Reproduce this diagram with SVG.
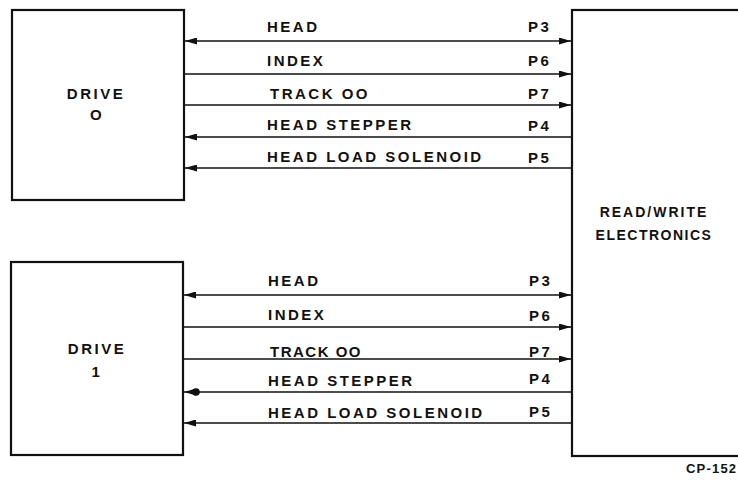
<svg xmlns="http://www.w3.org/2000/svg" width="738" height="484" viewBox="0 0 738 484">
<style>
.box{fill:none;stroke:#111;stroke-width:2.2}
.ln{fill:none;stroke:#111;stroke-width:1.4}
.t{font-family:"Liberation Sans",Arial,sans-serif;font-weight:bold;font-size:15px;fill:#111;letter-spacing:2.5px}
.c{text-anchor:middle}
.s{font-size:13px;letter-spacing:1.2px}
</style>
<defs>
<marker id="ah" markerUnits="userSpaceOnUse" viewBox="0 0 12 7" refX="12" refY="3.5" markerWidth="12" markerHeight="7" orient="auto-start-reverse">
<path d="M0,0 L12,3.5 L0,7 z" fill="#111"/>
</marker>
</defs>
<rect width="738" height="484" fill="#fff"/>
<g id="drive0">
<rect class="box" x="12" y="10" width="172" height="190"/>
<text class="t c" x="96" y="99">DRIVE</text>
<text class="t c" x="97" y="120">O</text>
</g>
<g id="drive1">
<rect class="box" x="11" y="262" width="172" height="193"/>
<text class="t c" x="97" y="354">DRIVE</text>
<text class="t c" x="97" y="377">1</text>
</g>
<g id="rw">
<rect class="box" x="572" y="10" width="200" height="446"/>
<text class="t c" x="654" y="217" style="font-size:14px;letter-spacing:2px">READ/WRITE</text>
<text class="t c" x="654" y="240" style="font-size:14px;letter-spacing:1.5px">ELECTRONICS</text>
</g>
<g id="connectors">
<line class="ln" x1="185" y1="41" x2="571" y2="41" marker-start="url(#ah)" marker-end="url(#ah)"/>
<line class="ln" x1="185" y1="74" x2="571" y2="74" marker-end="url(#ah)"/>
<line class="ln" x1="185" y1="105" x2="571" y2="105" marker-end="url(#ah)"/>
<line class="ln" x1="571" y1="137" x2="185" y2="137" marker-end="url(#ah)"/>
<line class="ln" x1="571" y1="168" x2="185" y2="168" marker-end="url(#ah)"/>
<line class="ln" x1="184" y1="295" x2="571" y2="295" marker-start="url(#ah)" marker-end="url(#ah)"/>
<line class="ln" x1="184" y1="327" x2="571" y2="327" marker-end="url(#ah)"/>
<line class="ln" x1="184" y1="359" x2="571" y2="359" marker-end="url(#ah)"/>
<line class="ln" x1="571" y1="392" x2="184" y2="392" marker-end="url(#ah)"/>
<circle cx="196" cy="392" r="3.8" fill="#111"/>
<line class="ln" x1="571" y1="423" x2="184" y2="423" marker-end="url(#ah)"/>
</g>
<g id="labels0">
<text class="t" x="267" y="32">HEAD</text>
<text class="t" x="267" y="66">INDEX</text>
<text class="t" x="270" y="99">TRACK OO</text>
<text class="t" x="267" y="130">HEAD STEPPER</text>
<text class="t" x="267" y="162">HEAD LOAD SOLENOID</text>
<text class="t" x="528" y="32">P3</text>
<text class="t" x="528" y="66">P6</text>
<text class="t" x="528" y="99">P7</text>
<text class="t" x="528" y="131">P4</text>
<text class="t" x="528" y="163">P5</text>
</g>
<g id="labels1">
<text class="t" x="268" y="286">HEAD</text>
<text class="t" x="268" y="320">INDEX</text>
<text class="t" x="270" y="357" style="letter-spacing:1.5px">TRACK OO</text>
<text class="t" x="268" y="386">HEAD STEPPER</text>
<text class="t" x="268" y="418">HEAD LOAD SOLENOID</text>
<text class="t" x="529" y="286">P3</text>
<text class="t" x="529" y="321">P6</text>
<text class="t" x="529" y="357">P7</text>
<text class="t" x="529" y="384">P4</text>
<text class="t" x="529" y="417">P5</text>
</g>
<text class="t s" x="686" y="473">CP-152</text>
</svg>
